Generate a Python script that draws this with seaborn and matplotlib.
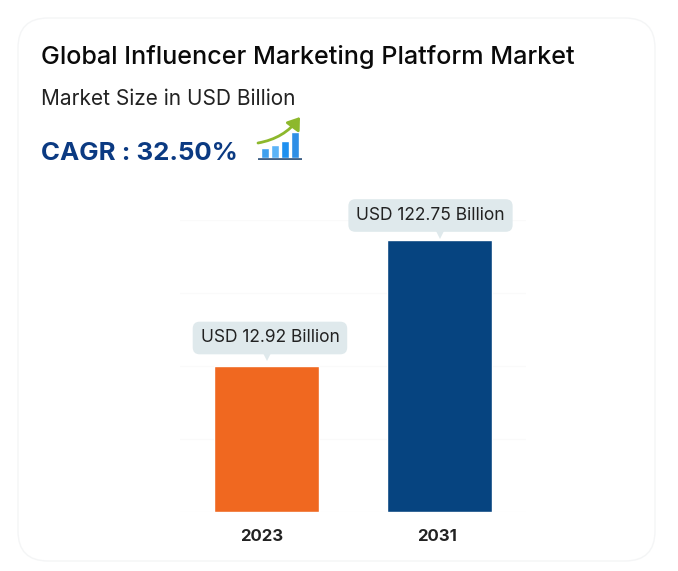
import matplotlib
matplotlib.use("Agg")
import matplotlib.pyplot as plt
from matplotlib.patches import FancyBboxPatch, FancyArrowPatch
from matplotlib.transforms import IdentityTransform, ScaledTranslation
import pandas as pd
import seaborn as sns

# Chart values (bars in the source are not to scale, heights)
years = ["2023", "2031"]
bar_heights = [146, 272]
bar_labels = ["USD 12.92 Billion", "USD 122.75 Billion"]
bar_colors = ["#F06820", "#064480"]
grid_ticks = [0, 73, 146, 219, 292]

# Little icon next to the CAGR
icon_groups = ["a", "b", "c", "d"]
icon_heights = [10, 13, 17, 26]
icon_colors = ["#3FA0EE", "#5BB4F8", "#1E90F0", "#2F8FE6"]
icon_trend_x = [-0.7, 3.5]
icon_trend_y = [15, 41]

W, H = 678, 571

sns.set_style("white")
plt.rcParams["font.family"] = ["Inter", "DejaVu Sans"]

fig = plt.figure(figsize=(W / 100, H / 100), dpi=100)
fig.patch.set_facecolor("white")


def fx(px):
    return px / W


def fy(py):
    return 1 - py / H


# Card behind everything
card = FancyBboxPatch(
    (18, H - 561), 637, 543,
    boxstyle="round,pad=0,rounding_size=30",
    facecolor="white", edgecolor="#F4F5F6", linewidth=1, zorder=0,
)
card.set_transform(IdentityTransform())
fig.add_artist(card)

# Header text
fig.text(fx(41), fy(57), "Global Influencer Marketing Platform Market",
         fontsize=18.13, fontweight=500, color="#0A0A0A", va="center")
fig.text(fx(41), fy(99), "Market Size in USD Billion",
         fontsize=15, color="#222222", va="center")
fig.text(fx(41), fy(154), "CAGR : 32.50%",
         fontsize=18.6, fontweight="bold", color="#0B3A82", va="center")

# Main bars
ax = fig.add_axes([fx(180), fy(512), fx(346), 292 / H])
ax.patch.set_alpha(0)
df = pd.DataFrame({"year": years, "height": bar_heights})
sns.barplot(data=df, x="year", y="height", hue="year", palette=bar_colors,
            width=0.605, legend=False, ax=ax, saturation=1, zorder=3)
ax.set_xlim(-0.5, 1.5)
ax.set_ylim(0, 292)
ax.set_xlabel("")
ax.set_ylabel("")
ax.set_yticks(grid_ticks)
ax.set_yticklabels([])
ax.yaxis.grid(True, color="#FAFAFA", linewidth=1)
ax.tick_params(axis="both", length=0)
sns.despine(ax=ax, left=True, bottom=True)

# Year labels sit a bit left of the bar centres
for label, shift in zip(ax.get_xticklabels(), [-5, -2.5]):
    label.set_fontsize(12)
    label.set_fontweight("bold")
    label.set_color("#222222")
    label.set_transform(label.get_transform() + ScaledTranslation(shift / 100, -12 / 100, fig.dpi_scale_trans))

# Callouts
callout_x = [0.02, 0.948]
callout_y = [176, 298.5]
pointer_x = [0.005, 1]
pointer_y = [157.5, 279]
for i in range(2):
    ax.text(callout_x[i], callout_y[i], bar_labels[i], fontsize=12.5, color="#222222",
            ha="center", va="center_baseline", clip_on=False, zorder=5,
            bbox=dict(boxstyle="round,pad=0.45,rounding_size=0.4", facecolor="#DFE9EC", edgecolor="none"))
    ax.plot(pointer_x[i], pointer_y[i], marker="v", markersize=8, color="#DFE9EC",
            markeredgewidth=0, clip_on=False, zorder=4)

# CAGR icon
ax_icon = fig.add_axes([fx(258), fy(160), fx(44), 44 / H])
ax_icon.patch.set_alpha(0)
icon_df = pd.DataFrame({"group": icon_groups, "height": icon_heights})
sns.barplot(data=icon_df, x="group", y="height", hue="group", palette=icon_colors,
            width=0.8, legend=False, ax=ax_icon, saturation=1)
ax_icon.set_xlim(-0.7, 3.7)
ax_icon.set_ylim(-2, 42)
ax_icon.axhline(-0.5, color="#3E5F85", linewidth=2)
ax_icon.add_patch(FancyArrowPatch(
    (icon_trend_x[0], icon_trend_y[0]), (icon_trend_x[1], icon_trend_y[1]),
    connectionstyle="arc3,rad=0.2", arrowstyle="-|>,head_length=5,head_width=3.5",
    color="#8DB82C", linewidth=2, mutation_scale=1.4, shrinkA=0, shrinkB=0, clip_on=False))
ax_icon.axis("off")

fig.savefig("out.png", dpi=100)
